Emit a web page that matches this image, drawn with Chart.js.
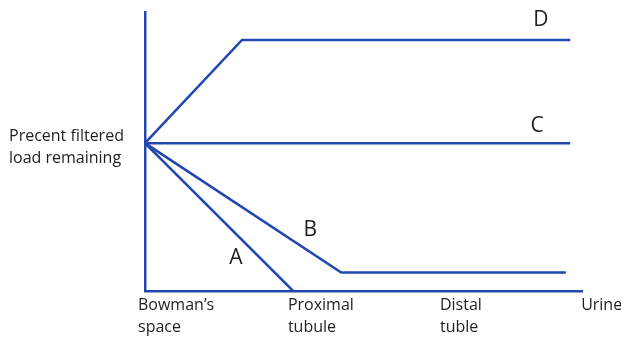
<!DOCTYPE html>
<html>
<head>
<meta charset="utf-8">
<script src="https://cdn.jsdelivr.net/npm/chart.js@4"></script>
<style>
  html, body { margin: 0; padding: 0; background: #fff; }
  #wrap { width: 621px; height: 339px; }
</style>
</head>
<body>
<div id="wrap"><canvas id="chart"></canvas></div>
<script>
// Curves: x = position along nephron (0-100), y = percent filtered load remaining (0-100)
const curveNames = ['A', 'B', 'C', 'D'];
const curveA = [{ x: 0, y: 53 }, { x: 33.9, y: 0 }];
const curveB = [{ x: 0, y: 53 }, { x: 44.9, y: 6.6 }, { x: 96.3, y: 6.6 }];
const curveC = [{ x: 0, y: 53 }, { x: 97.3, y: 53 }];
const curveD = [{ x: 0, y: 53 }, { x: 22.2, y: 90 }, { x: 97.3, y: 90 }];

// Axis labels
const xTickValues = [-1.6, 32.7, 67.5, 99.8];
const xTickLabels = [["Bowman\u2019s", 'space'], ['Proximal', 'tubule'], ['Distal', 'tuble'], ['Urine']];
const yTickValues = [51.4];
const yTickLabels = [['Precent filtered', 'load remaining']];

// Where the curve letters sit (data units)
const curveLabelPos = [{ x: 20.8, y: 11.8 }, { x: 37.8, y: 21.9 }, { x: 89.7, y: 59.2 }, { x: 90.6, y: 97.1 }];

const blue = '#2247ae';
const textColor = '#1e1e1e';
const fontFamily = '"Open Sans", Lato, sans-serif';

const curveLetters = {
    id: 'curveLetters',
    afterDatasetsDraw(chart) {
        const ctx = chart.ctx;
        const xs = chart.scales.x, ys = chart.scales.y;
        ctx.save();
        ctx.fillStyle = textColor;
        ctx.font = '21px ' + fontFamily;
        ctx.textAlign = 'center';
        ctx.textBaseline = 'middle';
        curveNames.forEach((name, i) => {
            const p = curveLabelPos[i];
            ctx.fillText(name, xs.getPixelForValue(p.x), ys.getPixelForValue(p.y));
        });
        ctx.restore();
    }
};

const series = [curveA, curveB, curveC, curveD];

new Chart(document.getElementById('chart'), {
    type: 'scatter',
    data: {
        datasets: series.map((pts, i) => ({
            label: curveNames[i],
            data: pts,
            showLine: true,
            borderColor: blue,
            backgroundColor: blue,
            borderWidth: 2.5,
            pointRadius: 0,
            tension: 0
        }))
    },
    options: {
        responsive: true,
        maintainAspectRatio: false,
        animation: false,
        layout: { padding: { top: 12, right: 39, left: 9, bottom: 0 } },
        plugins: {
            legend: { display: false },
            tooltip: { enabled: false }
        },
        scales: {
            x: {
                type: 'linear',
                min: 0,
                max: 100,
                grid: { display: false, drawTicks: false },
                border: { display: true, color: blue, width: 2.5 },
                afterBuildTicks: s => { s.ticks = xTickValues.map(v => ({ value: v })); },
                afterFit: s => { s.height = 48; s.paddingLeft = 0; s.paddingRight = 0; },
                ticks: {
                    autoSkip: false,
                    maxRotation: 0,
                    align: 'start',
                    padding: 4,
                    color: textColor,
                    font: { family: fontFamily, size: 16, lineHeight: 1.35 },
                    callback: (v, i) => xTickLabels[i]
                }
            },
            y: {
                type: 'linear',
                min: 0,
                max: 100,
                grid: { display: false, drawTicks: false },
                border: { display: true, color: blue, width: 2.5 },
                afterBuildTicks: s => { s.ticks = yTickValues.map(v => ({ value: v })); },
                afterFit: s => { s.width = 136; s.paddingTop = 0; s.paddingBottom = 0; },
                ticks: {
                    autoSkip: false,
                    crossAlign: 'far',
                    color: textColor,
                    font: { family: fontFamily, size: 16, lineHeight: 1.35 },
                    callback: (v, i) => yTickLabels[i]
                }
            }
        }
    },
    plugins: [curveLetters]
});
</script>
</body>
</html>
